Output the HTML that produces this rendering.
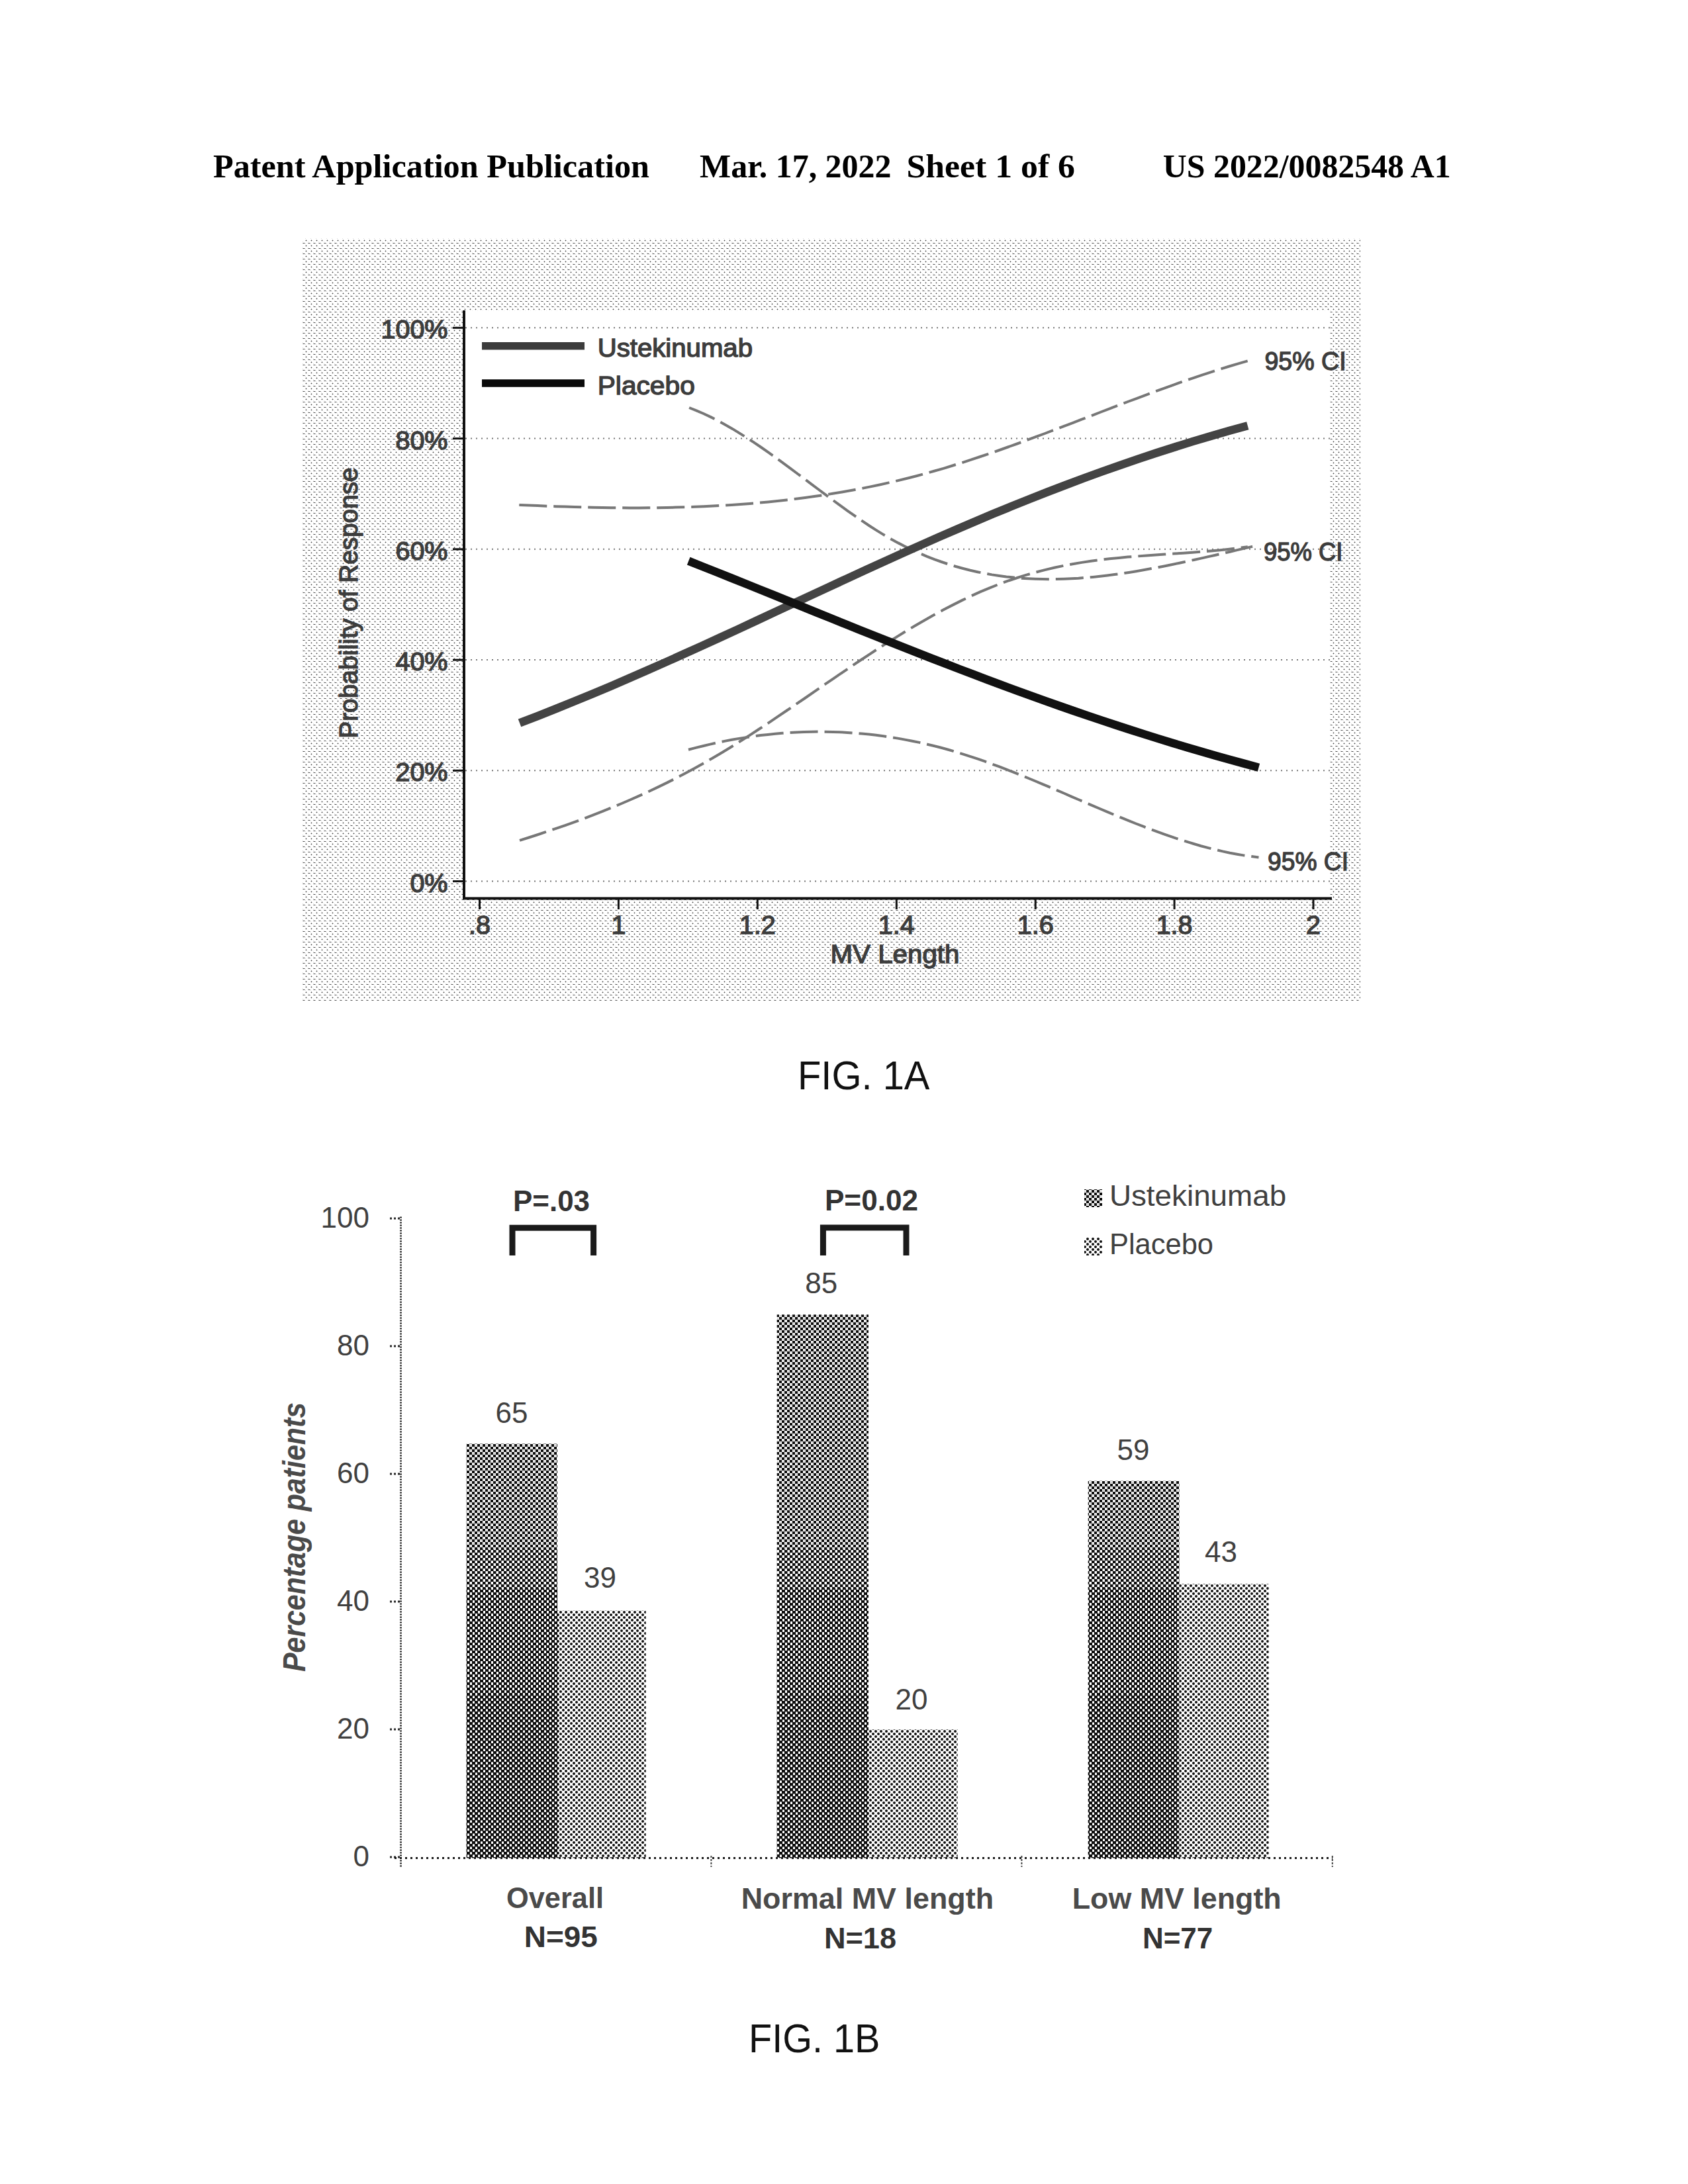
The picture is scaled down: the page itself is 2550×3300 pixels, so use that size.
<!DOCTYPE html>
<html><head><meta charset="utf-8"><title>US 2022/0082548 A1 - Sheet 1 of 6</title>
<style>
html,body{margin:0;padding:0;background:#fff;}
body{width:2550px;height:3300px;overflow:hidden;}
svg{display:block;}
.hdr{font-family:"Liberation Serif","Times New Roman",serif;font-weight:bold;font-size:50px;fill:#000;}
.a{font-family:"Liberation Sans",Arial,sans-serif;font-size:39.5px;fill:#3d3d3d;stroke:#3d3d3d;stroke-width:1.4px;}
.b{font-family:"Liberation Sans",Arial,sans-serif;font-size:44px;fill:#404040;}
.bb{font-family:"Liberation Sans",Arial,sans-serif;font-weight:bold;font-size:44.5px;fill:#333;}
.g{fill:#4a4a4a;}
.fig{font-family:"Liberation Sans",Arial,sans-serif;font-size:61px;fill:#111;}
</style></head><body>
<svg width="2550" height="3300" viewBox="0 0 2550 3300">
<defs>
 <pattern id="bgdots" x="0" y="0" width="8" height="8" patternUnits="userSpaceOnUse">
  <rect width="8" height="8" fill="#fff"/>
  <rect x="2" y="7" width="2" height="1" fill="#4a4a4a"/>
  <rect x="1" y="7" width="1" height="1" fill="#9a9a9a"/>
  <rect x="4" y="7" width="1" height="1" fill="#aaa"/>
  <rect x="6" y="3" width="1" height="1" fill="#404040"/>
  <rect x="6" y="2" width="1" height="1" fill="#aaa"/>
  <rect x="5" y="3" width="1" height="1" fill="#bbb"/>
  <rect x="7" y="3" width="1" height="1" fill="#bbb"/>
  <rect x="6" y="4" width="1" height="1" fill="#ccc"/>
  <rect x="5" y="0" width="1" height="1" fill="#ddd"/>
  <rect x="1" y="5" width="1" height="1" fill="#ddd"/>
 </pattern>
 <pattern id="ustpat" x="1" y="6" width="8" height="8" patternUnits="userSpaceOnUse">
  <rect width="8" height="8" fill="#fff"/>
  <rect x="5" y="1" width="2" height="2" fill="#d4d4d4"/>
  <rect x="1" y="5" width="2" height="2" fill="#d4d4d4"/>
  <rect x="0" y="0" width="4" height="4" fill="#0d0d0d"/>
  <rect x="4" y="4" width="4" height="4" fill="#0d0d0d"/>
 </pattern>
 <pattern id="ustpatM" x="1" y="6" width="8" height="8" patternUnits="userSpaceOnUse">
  <rect width="8" height="8" fill="#fff"/>
  <rect x="0" y="0" width="4" height="4" fill="#0d0d0d"/>
  <rect x="4" y="4" width="4" height="4" fill="#0d0d0d"/>
  <rect x="4" y="0" width="1" height="4" fill="#888"/>
  <rect x="0" y="4" width="1" height="4" fill="#888"/>
 </pattern>
 <pattern id="ustpat2" x="1" y="6" width="8" height="8" patternUnits="userSpaceOnUse">
  <rect width="8" height="8" fill="#fff"/>
  <rect x="0" y="0" width="5" height="4" fill="#0d0d0d"/>
  <rect x="4" y="4" width="4" height="4" fill="#0d0d0d"/>
  <rect x="0" y="4" width="1" height="4" fill="#0d0d0d"/>
 </pattern>
 <pattern id="ustpat3" x="1" y="6" width="8" height="8" patternUnits="userSpaceOnUse">
  <rect width="8" height="8" fill="#fff"/>
  <rect x="0" y="0" width="5" height="4" fill="#0d0d0d"/>
  <rect x="4" y="4" width="4" height="4" fill="#0d0d0d"/>
  <rect x="0" y="4" width="1" height="4" fill="#0d0d0d"/>
  <rect x="1" y="4" width="3" height="1" fill="#999"/>
  <rect x="5" y="0" width="3" height="1" fill="#999"/>
 </pattern>
 <pattern id="plapat" x="1" y="6" width="8" height="8" patternUnits="userSpaceOnUse">
  <rect width="8" height="8" fill="#fff"/>
  <circle cx="2" cy="2" r="2.0" fill="#111"/>
  <circle cx="6" cy="6" r="2.0" fill="#111"/>
 </pattern>
</defs>
<rect width="2550" height="3300" fill="#fff"/>
<text class="hdr" x="322" y="267.5" textLength="659" lengthAdjust="spacingAndGlyphs">Patent Application Publication</text>
<text class="hdr" x="1057" y="267.5" textLength="289.5" lengthAdjust="spacingAndGlyphs">Mar. 17, 2022</text>
<text class="hdr" x="1369.5" y="267.5" textLength="254.5" lengthAdjust="spacingAndGlyphs">Sheet 1 of 6</text>
<text class="hdr" x="1756.8" y="267.5" textLength="434.9" lengthAdjust="spacingAndGlyphs">US 2022/0082548 A1</text>
<rect x="456" y="360" width="1599" height="1152" fill="url(#bgdots)"/>
<rect x="700" y="469.5" width="1309.5" height="888" fill="#fff"/>
<line x1="703" y1="1331.6" x2="2011" y2="1331.6" stroke="#777" stroke-width="2" stroke-dasharray="2,6"/>
<line x1="703" y1="1164.3" x2="2011" y2="1164.3" stroke="#777" stroke-width="2" stroke-dasharray="2,6"/>
<line x1="703" y1="997.1" x2="2011" y2="997.1" stroke="#777" stroke-width="2" stroke-dasharray="2,6"/>
<line x1="703" y1="829.8" x2="2011" y2="829.8" stroke="#777" stroke-width="2" stroke-dasharray="2,6"/>
<line x1="703" y1="662.6" x2="2011" y2="662.6" stroke="#777" stroke-width="2" stroke-dasharray="2,6"/>
<line x1="703" y1="495.3" x2="2011" y2="495.3" stroke="#777" stroke-width="2" stroke-dasharray="2,6"/>
<line x1="701" y1="469" x2="701" y2="1359" stroke="#111" stroke-width="4"/>
<line x1="699" y1="1357.5" x2="2012" y2="1357.5" stroke="#111" stroke-width="4"/>
<line x1="684" y1="1331.6" x2="701" y2="1331.6" stroke="#111" stroke-width="3"/>
<text class="a" x="676.5" y="1347.6" text-anchor="end">0%</text>
<line x1="684" y1="1164.3" x2="701" y2="1164.3" stroke="#111" stroke-width="3"/>
<text class="a" x="676.5" y="1180.3" text-anchor="end">20%</text>
<line x1="684" y1="997.1" x2="701" y2="997.1" stroke="#111" stroke-width="3"/>
<text class="a" x="676.5" y="1013.1" text-anchor="end">40%</text>
<line x1="684" y1="829.8" x2="701" y2="829.8" stroke="#111" stroke-width="3"/>
<text class="a" x="676.5" y="845.8" text-anchor="end">60%</text>
<line x1="684" y1="662.6" x2="701" y2="662.6" stroke="#111" stroke-width="3"/>
<text class="a" x="676.5" y="678.6" text-anchor="end">80%</text>
<line x1="684" y1="495.3" x2="701" y2="495.3" stroke="#111" stroke-width="3"/>
<text class="a" x="676.5" y="511.3" text-anchor="end">100%</text>
<line x1="724.5" y1="1357" x2="724.5" y2="1374" stroke="#111" stroke-width="3"/>
<text class="a" x="724.5" y="1410.5" text-anchor="middle">.8</text>
<line x1="934.4" y1="1357" x2="934.4" y2="1374" stroke="#111" stroke-width="3"/>
<text class="a" x="934.4" y="1410.5" text-anchor="middle">1</text>
<line x1="1144.3" y1="1357" x2="1144.3" y2="1374" stroke="#111" stroke-width="3"/>
<text class="a" x="1144.3" y="1410.5" text-anchor="middle">1.2</text>
<line x1="1354.3" y1="1357" x2="1354.3" y2="1374" stroke="#111" stroke-width="3"/>
<text class="a" x="1354.3" y="1410.5" text-anchor="middle">1.4</text>
<line x1="1564.2" y1="1357" x2="1564.2" y2="1374" stroke="#111" stroke-width="3"/>
<text class="a" x="1564.2" y="1410.5" text-anchor="middle">1.6</text>
<line x1="1774.1" y1="1357" x2="1774.1" y2="1374" stroke="#111" stroke-width="3"/>
<text class="a" x="1774.1" y="1410.5" text-anchor="middle">1.8</text>
<line x1="1984.0" y1="1357" x2="1984.0" y2="1374" stroke="#111" stroke-width="3"/>
<text class="a" x="1984.0" y="1410.5" text-anchor="middle">2</text>
<text class="a" x="1352" y="1454.5" text-anchor="middle" textLength="195" lengthAdjust="spacingAndGlyphs">MV Length</text>
<text class="a" transform="translate(539.5,911) rotate(-90)" x="0" y="0" text-anchor="middle" textLength="409.3" lengthAdjust="spacingAndGlyphs">Probability of Response</text>
<line x1="728" y1="522.7" x2="883" y2="522.7" stroke="#3c3c3c" stroke-width="11.5"/>
<line x1="728" y1="579" x2="883" y2="579" stroke="#0a0a0a" stroke-width="11.5"/>
<text class="a" x="902.7" y="538.5" textLength="234.3" lengthAdjust="spacingAndGlyphs">Ustekinumab</text>
<text class="a" x="902.7" y="595.5" textLength="147.1" lengthAdjust="spacingAndGlyphs">Placebo</text>
<path d="M784.3,762.9 L798.3,763.6 L812.2,764.1 L826.1,764.7 L840.0,765.2 L854.0,765.6 L867.9,766.1 L881.8,766.4 L895.8,766.7 L909.7,767.0 L923.6,767.2 L937.6,767.3 L951.5,767.4 L965.4,767.4 L979.4,767.3 L993.3,767.2 L1007.2,767.0 L1021.1,766.6 L1035.1,766.3 L1049.0,765.8 L1062.9,765.2 L1076.9,764.5 L1090.8,763.8 L1104.7,762.9 L1118.7,762.0 L1132.6,760.9 L1146.5,759.7 L1160.4,758.4 L1174.4,757.0 L1188.3,755.4 L1202.2,753.8 L1216.2,752.0 L1230.1,750.1 L1244.0,748.0 L1258.0,745.8 L1271.9,743.5 L1285.8,741.0 L1299.8,738.4 L1313.7,735.6 L1327.6,732.7 L1341.5,729.6 L1355.5,726.4 L1369.4,723.0 L1383.3,719.5 L1397.3,715.7 L1411.2,711.8 L1425.1,707.8 L1439.1,703.5 L1453.0,699.2 L1466.9,694.7 L1480.8,690.0 L1494.8,685.3 L1508.7,680.5 L1522.6,675.5 L1536.6,670.5 L1550.5,665.4 L1564.4,660.2 L1578.4,655.0 L1592.3,649.7 L1606.2,644.4 L1620.2,639.1 L1634.1,633.7 L1648.0,628.4 L1661.9,623.0 L1675.9,617.7 L1689.8,612.3 L1703.7,607.0 L1717.7,601.8 L1731.6,596.6 L1745.5,591.4 L1759.5,586.3 L1773.4,581.3 L1787.3,576.4 L1801.3,571.6 L1815.2,566.9 L1829.1,562.3 L1843.0,557.8 L1857.0,553.5 L1870.9,549.3 L1884.8,545.3" fill="none" stroke="#777" stroke-width="4" stroke-dasharray="42,10"/>
<path d="M785.0,1269.9 L798.9,1265.5 L812.8,1261.0 L826.7,1256.4 L840.6,1251.6 L854.6,1246.8 L868.5,1241.8 L882.4,1236.7 L896.3,1231.4 L910.3,1225.9 L924.2,1220.3 L938.1,1214.5 L952.0,1208.5 L965.9,1202.4 L979.9,1196.0 L993.8,1189.4 L1007.7,1182.6 L1021.6,1175.6 L1035.6,1168.3 L1049.5,1160.8 L1063.4,1153.0 L1077.3,1145.0 L1091.3,1136.7 L1105.2,1128.2 L1119.1,1119.5 L1133.0,1110.6 L1146.9,1101.5 L1160.9,1092.3 L1174.8,1082.9 L1188.7,1073.5 L1202.6,1064.0 L1216.6,1054.5 L1230.5,1044.9 L1244.4,1035.3 L1258.3,1025.8 L1272.2,1016.3 L1286.2,1006.8 L1300.1,997.5 L1314.0,988.3 L1327.9,979.2 L1341.9,970.3 L1355.8,961.6 L1369.7,953.0 L1383.6,944.7 L1397.5,936.7 L1411.5,928.8 L1425.4,921.3 L1439.3,914.1 L1453.2,907.1 L1467.2,900.5 L1481.1,894.2 L1495.0,888.3 L1508.9,882.8 L1522.8,877.7 L1536.8,873.0 L1550.7,868.7 L1564.6,864.7 L1578.5,861.1 L1592.5,857.8 L1606.4,854.9 L1620.3,852.3 L1634.2,849.9 L1648.2,847.8 L1662.1,846.0 L1676.0,844.3 L1689.9,842.9 L1703.8,841.6 L1717.8,840.5 L1731.7,839.4 L1745.6,838.5 L1759.5,837.5 L1773.5,836.6 L1787.4,835.7 L1801.3,834.7 L1815.2,833.6 L1829.1,832.5 L1843.1,831.2 L1857.0,829.7 L1870.9,828.0 L1884.8,826.2" fill="none" stroke="#777" stroke-width="4" stroke-dasharray="42,10"/>
<path d="M1041.1,616.0 L1052.0,620.3 L1062.8,625.0 L1073.7,630.1 L1084.6,635.7 L1095.5,641.7 L1106.4,647.9 L1117.3,654.6 L1128.2,661.5 L1139.1,668.6 L1150.0,676.0 L1160.9,683.6 L1171.8,691.4 L1182.7,699.3 L1193.5,707.3 L1204.4,715.5 L1215.3,723.6 L1226.2,731.8 L1237.1,740.0 L1248.0,748.1 L1258.9,756.2 L1269.8,764.2 L1280.7,772.1 L1291.6,779.7 L1302.5,787.2 L1313.4,794.5 L1324.2,801.4 L1335.1,808.1 L1346.0,814.4 L1356.9,820.4 L1367.8,826.0 L1378.7,831.3 L1389.6,836.2 L1400.5,840.8 L1411.4,845.1 L1422.3,849.0 L1433.2,852.7 L1444.1,856.0 L1455.0,859.0 L1465.8,861.8 L1476.7,864.2 L1487.6,866.4 L1498.5,868.4 L1509.4,870.0 L1520.3,871.5 L1531.2,872.6 L1542.1,873.6 L1553.0,874.3 L1563.9,874.8 L1574.8,875.1 L1585.7,875.2 L1596.5,875.1 L1607.4,874.8 L1618.3,874.3 L1629.2,873.7 L1640.1,872.8 L1651.0,871.9 L1661.9,870.8 L1672.8,869.5 L1683.7,868.1 L1694.6,866.6 L1705.5,864.9 L1716.4,863.2 L1727.3,861.3 L1738.1,859.3 L1749.0,857.3 L1759.9,855.2 L1770.8,853.0 L1781.7,850.7 L1792.6,848.4 L1803.5,846.0 L1814.4,843.6 L1825.3,841.1 L1836.2,838.7 L1847.1,836.2 L1858.0,833.7 L1868.8,831.1 L1879.7,828.6 L1890.6,826.1 L1901.5,823.7" fill="none" stroke="#777" stroke-width="4" stroke-dasharray="42,10"/>
<path d="M1040.0,1132.8 L1050.9,1129.9 L1061.8,1127.2 L1072.7,1124.6 L1083.6,1122.2 L1094.5,1119.9 L1105.4,1117.8 L1116.3,1115.9 L1127.3,1114.2 L1138.2,1112.6 L1149.1,1111.1 L1160.0,1109.9 L1170.9,1108.7 L1181.8,1107.8 L1192.7,1107.0 L1203.6,1106.4 L1214.5,1106.0 L1225.4,1105.7 L1236.3,1105.6 L1247.2,1105.7 L1258.1,1105.9 L1269.0,1106.3 L1279.9,1106.9 L1290.8,1107.6 L1301.7,1108.5 L1312.6,1109.6 L1323.5,1110.8 L1334.5,1112.3 L1345.4,1113.9 L1356.3,1115.6 L1367.2,1117.6 L1378.1,1119.7 L1389.0,1121.9 L1399.9,1124.4 L1410.8,1127.0 L1421.7,1129.8 L1432.6,1132.8 L1443.5,1136.0 L1454.4,1139.3 L1465.3,1142.8 L1476.2,1146.4 L1487.1,1150.2 L1498.0,1154.2 L1508.9,1158.2 L1519.8,1162.4 L1530.7,1166.7 L1541.6,1171.0 L1552.6,1175.5 L1563.5,1180.0 L1574.4,1184.6 L1585.3,1189.2 L1596.2,1193.9 L1607.1,1198.5 L1618.0,1203.3 L1628.9,1208.0 L1639.8,1212.7 L1650.7,1217.3 L1661.6,1222.0 L1672.5,1226.6 L1683.4,1231.2 L1694.3,1235.7 L1705.2,1240.1 L1716.1,1244.5 L1727.0,1248.7 L1737.9,1252.9 L1748.8,1256.9 L1759.8,1260.9 L1770.7,1264.6 L1781.6,1268.3 L1792.5,1271.7 L1803.4,1275.0 L1814.3,1278.2 L1825.2,1281.1 L1836.1,1283.8 L1847.0,1286.4 L1857.9,1288.7 L1868.8,1290.7 L1879.7,1292.6 L1890.6,1294.1 L1901.5,1295.4" fill="none" stroke="#777" stroke-width="4" stroke-dasharray="42,10"/>
<path d="M785.0,1092.4 L812.5,1081.8 L840.0,1070.9 L867.4,1059.8 L894.9,1048.4 L922.4,1036.9 L949.9,1025.0 L977.4,1013.0 L1004.9,1000.9 L1032.4,988.5 L1059.9,976.1 L1087.4,963.5 L1114.9,950.8 L1142.4,938.0 L1169.9,925.2 L1197.4,912.4 L1224.9,899.6 L1252.4,886.8 L1279.9,874.1 L1307.4,861.4 L1334.9,848.9 L1362.4,836.4 L1389.9,824.1 L1417.4,811.9 L1444.9,800.0 L1472.4,788.2 L1499.9,776.6 L1527.4,765.3 L1554.9,754.2 L1582.4,743.4 L1609.9,732.8 L1637.4,722.5 L1664.9,712.5 L1692.4,702.8 L1719.9,693.4 L1747.3,684.3 L1774.8,675.5 L1802.3,666.9 L1829.8,658.7 L1857.3,650.8 L1884.8,643.2" fill="none" stroke="#444" stroke-width="12.5"/>
<path d="M1040.2,847.6 L1061.8,856.2 L1083.3,864.7 L1104.8,873.4 L1126.3,882.0 L1147.9,890.7 L1169.4,899.4 L1190.9,908.1 L1212.5,916.9 L1234.0,925.6 L1255.5,934.3 L1277.1,943.0 L1298.6,951.7 L1320.1,960.3 L1341.7,968.9 L1363.2,977.4 L1384.7,985.9 L1406.3,994.4 L1427.8,1002.7 L1449.3,1011.0 L1470.9,1019.2 L1492.4,1027.3 L1513.9,1035.4 L1535.5,1043.3 L1557.0,1051.1 L1578.5,1058.9 L1600.1,1066.5 L1621.6,1074.0 L1643.1,1081.4 L1664.7,1088.6 L1686.2,1095.7 L1707.7,1102.7 L1729.3,1109.6 L1750.8,1116.4 L1772.3,1123.0 L1793.9,1129.4 L1815.4,1135.7 L1836.9,1141.9 L1858.5,1148.0 L1880.0,1153.9 L1901.5,1159.7" fill="none" stroke="#111" stroke-width="12.5"/>
<text class="a" x="1910.4" y="559" textLength="123.2" lengthAdjust="spacingAndGlyphs">95% CI</text>
<text class="a" x="1909" y="847" textLength="119.5" lengthAdjust="spacingAndGlyphs">95% CI</text>
<text class="a" x="1915" y="1314.5" textLength="122" lengthAdjust="spacingAndGlyphs">95% CI</text>
<text class="fig" x="1205" y="1646" textLength="199.5" lengthAdjust="spacingAndGlyphs">FIG. 1A</text>
<line x1="605.5" y1="1838.5" x2="605.5" y2="2821" stroke="#2a2a2a" stroke-width="3" stroke-dasharray="2,2"/>
<line x1="589" y1="2806.0" x2="605" y2="2806.0" stroke="#2a2a2a" stroke-width="3" stroke-dasharray="3,3"/>
<text class="b" x="558" y="2820.0" text-anchor="end">0</text>
<line x1="589" y1="2613.0" x2="605" y2="2613.0" stroke="#2a2a2a" stroke-width="3" stroke-dasharray="3,3"/>
<text class="b" x="558" y="2627.0" text-anchor="end">20</text>
<line x1="589" y1="2420.0" x2="605" y2="2420.0" stroke="#2a2a2a" stroke-width="3" stroke-dasharray="3,3"/>
<text class="b" x="558" y="2434.0" text-anchor="end">40</text>
<line x1="589" y1="2227.0" x2="605" y2="2227.0" stroke="#2a2a2a" stroke-width="3" stroke-dasharray="3,3"/>
<text class="b" x="558" y="2241.0" text-anchor="end">60</text>
<line x1="589" y1="2034.0" x2="605" y2="2034.0" stroke="#2a2a2a" stroke-width="3" stroke-dasharray="3,3"/>
<text class="b" x="558" y="2048.0" text-anchor="end">80</text>
<line x1="589" y1="1841.0" x2="605" y2="1841.0" stroke="#2a2a2a" stroke-width="3" stroke-dasharray="3,3"/>
<text class="b" x="558" y="1855.0" text-anchor="end">100</text>
<rect x="704.6" y="2181.5" width="137.4" height="158.5" fill="url(#ustpat)"/>
<rect x="704.6" y="2340.0" width="137.4" height="60.0" fill="url(#ustpatM)"/>
<rect x="704.6" y="2400.0" width="137.4" height="160.0" fill="url(#ustpat2)"/>
<rect x="704.6" y="2560.0" width="137.4" height="247.5" fill="url(#ustpat3)"/>
<rect x="842.0" y="2433.6" width="133.7" height="373.9" fill="url(#plapat)"/>
<text class="b" x="772.9" y="2149.5" text-anchor="middle">65</text>
<text class="b" x="906.5" y="2399.0" text-anchor="middle">39</text>
<rect x="1173.7" y="1986.4" width="138.3" height="353.6" fill="url(#ustpat)"/>
<rect x="1173.7" y="2340.0" width="138.3" height="60.0" fill="url(#ustpatM)"/>
<rect x="1173.7" y="2400.0" width="138.3" height="160.0" fill="url(#ustpat2)"/>
<rect x="1173.7" y="2560.0" width="138.3" height="247.5" fill="url(#ustpat3)"/>
<rect x="1312.0" y="2613.2" width="134.6" height="194.3" fill="url(#plapat)"/>
<text class="b" x="1240.7" y="1954.4" text-anchor="middle">85</text>
<text class="b" x="1377.0" y="2583.2" text-anchor="middle">20</text>
<rect x="1643.7" y="2237.7" width="137.8" height="102.3" fill="url(#ustpat)"/>
<rect x="1643.7" y="2340.0" width="137.8" height="60.0" fill="url(#ustpatM)"/>
<rect x="1643.7" y="2400.0" width="137.8" height="160.0" fill="url(#ustpat2)"/>
<rect x="1643.7" y="2560.0" width="137.8" height="247.5" fill="url(#ustpat3)"/>
<rect x="1781.5" y="2393.2" width="135.2" height="414.3" fill="url(#plapat)"/>
<text class="b" x="1711.9" y="2205.7" text-anchor="middle">59</text>
<text class="b" x="1844.6" y="2359.6" text-anchor="middle">43</text>
<line x1="596" y1="2807.5" x2="2013" y2="2807.5" stroke="#1a1a1a" stroke-width="3" stroke-dasharray="3,5"/>
<line x1="1074.4" y1="2804" x2="1074.4" y2="2821" stroke="#444" stroke-width="2" stroke-dasharray="3,2"/>
<line x1="1543.4" y1="2804" x2="1543.4" y2="2821" stroke="#444" stroke-width="2" stroke-dasharray="3,2"/>
<line x1="2012.8" y1="2804" x2="2012.8" y2="2821" stroke="#444" stroke-width="2" stroke-dasharray="3,2"/>
<text class="bb g" x="764.9" y="2882.5" textLength="147.1" lengthAdjust="spacingAndGlyphs">Overall</text>
<text class="bb" x="791.8" y="2942" textLength="111.1" lengthAdjust="spacingAndGlyphs">N=95</text>
<text class="bb g" x="1119.7" y="2884" textLength="381.4" lengthAdjust="spacingAndGlyphs">Normal MV length</text>
<text class="bb" x="1244.9" y="2943.5" textLength="109.2" lengthAdjust="spacingAndGlyphs">N=18</text>
<text class="bb g" x="1619.7" y="2884" textLength="316" lengthAdjust="spacingAndGlyphs">Low MV length</text>
<text class="bb" x="1725.9" y="2943.5" textLength="106.4" lengthAdjust="spacingAndGlyphs">N=77</text>
<text class="bb g" font-style="italic" font-size="48" style="font-size:48px" transform="translate(460.5,2322.5) rotate(-90)" x="0" y="0" text-anchor="middle" textLength="407" lengthAdjust="spacingAndGlyphs">Percentage patients</text>
<path d="M774,1897 V1855.2 H896.6 V1897" fill="none" stroke="#1a1a1a" stroke-width="9"/>
<path d="M1243.4,1897 V1855 H1369 V1897" fill="none" stroke="#1a1a1a" stroke-width="9"/>
<text class="bb" x="775" y="1829.5" textLength="116" lengthAdjust="spacingAndGlyphs">P=.03</text>
<text class="bb" x="1245.9" y="1828.5" textLength="141.2" lengthAdjust="spacingAndGlyphs">P=0.02</text>
<rect x="1638" y="1797" width="27" height="27" fill="url(#ustpat)"/>
<rect x="1638" y="1870" width="27" height="27" fill="url(#plapat)"/>
<text class="b" x="1675.9" y="1821.5" textLength="267.3" lengthAdjust="spacingAndGlyphs">Ustekinumab</text>
<text class="b" x="1675.9" y="1895" textLength="157.1" lengthAdjust="spacingAndGlyphs">Placebo</text>
<text class="fig" x="1131" y="3100.5" textLength="198.4" lengthAdjust="spacingAndGlyphs">FIG. 1B</text>
</svg>
</body></html>
